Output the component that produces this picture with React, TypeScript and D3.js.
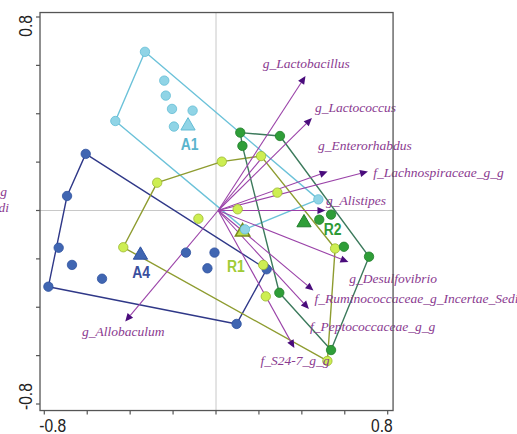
import React from 'react';
import * as d3 from 'd3';

// ---------- data (ordination scores) ----------
const groupNames = ['A1', 'A4', 'R1', 'R2'];

const a1X = [-0.331, -0.241, -0.234, -0.205, -0.109, -0.196, -0.469, 0.477, 0.135];
const a1Y = [0.656, 0.537, 0.475, 0.420, 0.413, 0.347, 0.370, 0.046, -0.078];

const a4X = [-0.607, -0.694, -0.733, -0.671, -0.781, -0.531, -0.140, -0.007, -0.040, 0.236, 0.096];
const a4Y = [0.234, 0.060, -0.154, -0.225, -0.315, -0.282, -0.174, -0.174, -0.239, -0.243, -0.469];

const r1X = [0.027, 0.210, -0.274, 0.286, 0.101, -0.082, -0.432, 0.220, 0.232, 0.555, 0.519];
const r1Y = [0.202, 0.225, 0.115, 0.074, 0.005, -0.034, -0.152, -0.225, -0.355, -0.157, -0.622];

const r2X = [0.113, 0.123, 0.298, 0.481, 0.536, 0.596, 0.713, 0.295, 0.536];
const r2Y = [0.322, 0.267, 0.308, -0.038, -0.017, -0.150, -0.191, -0.340, -0.577];

// group label anchors (data units)
const groupLabelX = [-0.123, -0.349, 0.093, 0.543];
const groupLabelY = [0.250, -0.279, -0.253, -0.101];

// environmental / taxon vectors
const taxa = [
  'g_Lactobacillus',
  'g_Lactococcus',
  'g_Enterorhabdus',
  'f_Lachnospiraceae_g_g',
  'g_Alistipes',
  'g_Desulfovibrio',
  'f_Ruminococcaceae_g_Incertae_Sedis',
  'f_Peptococcaceae_g_g',
  'f_S24-7_g_g',
  'g_Allobaculum',
];
const taxonX = [0.417, 0.447, 0.520, 0.708, 0.510, 0.617, 0.454, 0.433, 0.365, -0.423];
const taxonY = [0.556, 0.382, 0.161, 0.161, 0.000, -0.213, -0.331, -0.407, -0.568, -0.459];
const taxonLabelX = [0.421, 0.461, 0.475, 0.733, 0.513, 0.621, 0.459, 0.438, 0.368, -0.432];
const taxonLabelY = [0.589, 0.408, 0.250, 0.140, 0.023, -0.301, -0.384, -0.500, -0.639, -0.519];
const taxonAnchor = ['middle', 'start', 'start', 'start', 'start', 'start', 'start', 'start', 'middle', 'middle'];
const vectorOrigin = [0.01, 0];
// axis extension through the origin opposite g_Allobaculum
const extensionEnd = [0.225, 0.23];

// cut-off label at the left margin
const leftLabelLines = ['f_Erysipelotrichaceae_g', 'g_Incertae_Sedi'];
const leftLabelY = [0.06, -0.005];

const axisTicks = [-0.8, -0.6, -0.4, -0.2, 0, 0.2, 0.4, 0.6, 0.8];
const axisTickLabels = ['-0.8', '0.8'];

// ---------- styles ----------
const styles: Record<string, { fill: string; stroke: string; hull: string; label: string }> = {
  A1: { fill: '#90d4e6', stroke: '#62bcd4', hull: '#6cc2d9', label: '#5ab4cd' },
  A4: { fill: '#4066b2', stroke: '#2f52a0', hull: '#2f3888', label: '#3a4f9e' },
  R1: { fill: '#cdee52', stroke: '#9ab830', hull: '#8e9c30', label: '#9fcb36' },
  R2: { fill: '#2f9e38', stroke: '#1f7d2a', hull: '#3c7a5c', label: '#2e9a36' },
};

const xs = d3.scaleLinear().domain([-0.8, 0.8]).range([44.3, 387.7]);
const ys = d3.scaleLinear().domain([-0.8, 0.8]).range([404, 17]);
const boxX = [-0.82, 0.825];
const boxY = [-0.827, 0.8185];

export default function App() {
  const groups = [
    { name: groupNames[0], xv: a1X, yv: a1Y },
    { name: groupNames[1], xv: a4X, yv: a4Y },
    { name: groupNames[2], xv: r1X, yv: r1Y },
    { name: groupNames[3], xv: r2X, yv: r2Y },
  ];

  const left = xs(boxX[0]);
  const right = xs(boxX[1]);
  const top = ys(boxY[1]);
  const bottom = ys(boxY[0]);

  const ox = xs(vectorOrigin[0]);
  const oy = ys(vectorOrigin[1]);

  const tri = d3.symbol().type(d3.symbolTriangle).size(88)();

  const sansFont = "'Liberation Sans', Arial, sans-serif";
  const serifFont = "'Liberation Serif', 'Times New Roman', serif";
  const purpleText = '#8a3a90';
  const purpleLine = '#9a42a8';
  const purpleHead = '#4a0c7c';

  return (
    <svg width={517} height={434} style={{ position: 'absolute', left: 0, top: 0, background: '#fff' }}>
      <rect x={0} y={0} width={517} height={434} fill="#fff" />
      {/* gridlines at zero */}
      <line x1={xs(0)} x2={xs(0)} y1={top} y2={bottom} stroke="#c8c8c8" strokeWidth={1} />
      <line x1={left} x2={right} y1={ys(0)} y2={ys(0)} stroke="#c8c8c8" strokeWidth={1} />

      {/* hulls */}
      {groups.map((g) => {
        const pts = g.xv.map((v, i) => [xs(v), ys(g.yv[i])] as [number, number]);
        const hull = d3.polygonHull(pts) || [];
        return (
          <polygon
            key={'h' + g.name}
            points={hull.map((p) => p.join(',')).join(' ')}
            fill="none"
            stroke={styles[g.name].hull}
            strokeWidth={1.4}
            strokeLinejoin="round"
          />
        );
      })}

      {/* vectors */}
      <line x1={ox} y1={oy} x2={xs(extensionEnd[0])} y2={ys(extensionEnd[1])} stroke={purpleLine} strokeWidth={1.1} />
      {taxa.map((t, i) => {
        const tx = xs(taxonX[i]);
        const ty = ys(taxonY[i]);
        const ang = Math.atan2(ty - oy, tx - ox);
        const L = 8, w = 3.6;
        const bx = tx - L * Math.cos(ang);
        const by = ty - L * Math.sin(ang);
        const nx = -Math.sin(ang), ny = Math.cos(ang);
        const head = `${tx},${ty} ${bx + w * nx},${by + w * ny} ${bx - w * nx},${by - w * ny}`;
        return (
          <g key={'v' + t}>
            <line x1={ox} y1={oy} x2={bx} y2={by} stroke={purpleLine} strokeWidth={1.1} />
            <polygon points={head} fill={purpleHead} />
          </g>
        );
      })}

      {/* centroids */}
      {groups.map((g) => {
        const cx = xs(d3.mean(g.xv) as number);
        const cy = ys(d3.mean(g.yv) as number);
        const s = styles[g.name];
        const isR1 = g.name === 'R1';
        return (
          <path
            key={'c' + g.name}
            d={tri as string}
            transform={`translate(${cx},${cy + 1})`}
            fill={isR1 ? '#bcdc48' : s.fill}
            stroke={isR1 ? '#7a8a1c' : s.stroke}
            strokeWidth={isR1 ? 1.6 : 1}
          />
        );
      })}

      {/* points */}
      {groups.map((g) =>
        g.xv.map((v, i) => (
          <circle
            key={'p' + g.name + i}
            cx={xs(v)}
            cy={ys(g.yv[i])}
            r={4.7}
            fill={styles[g.name].fill}
            stroke={styles[g.name].stroke}
            strokeWidth={0.8}
          />
        ))
      )}

      {/* group labels */}
      {groups.map((g, i) => (
        <text
          key={'gl' + g.name}
          transform={`translate(${xs(groupLabelX[i])},${ys(groupLabelY[i])}) scale(0.82,1)`}
          textAnchor="middle"
          fontFamily={sansFont}
          fontWeight="bold"
          fontSize={17}
          fill={styles[g.name].label}
        >
          {g.name}
        </text>
      ))}

      {/* taxon labels */}
      {taxa.map((t, i) => (
        <text
          key={'tl' + t}
          x={xs(taxonLabelX[i])}
          y={ys(taxonLabelY[i])}
          textAnchor={taxonAnchor[i] as any}
          fontFamily={serifFont}
          fontStyle="italic"
          fontSize={13.5}
          fill={purpleText}
        >
          {t}
        </text>
      ))}
      {leftLabelLines.map((t, i) => (
        <text
          key={'ll' + i}
          x={i === 0 ? 7 : 9}
          y={ys(leftLabelY[i])}
          textAnchor="end"
          fontFamily={serifFont}
          fontStyle="italic"
          fontSize={13.5}
          fill={purpleText}
        >
          {t}
        </text>
      ))}

      {/* frame */}
      <rect x={left} y={top} width={right - left} height={bottom - top} fill="none" stroke="#555" strokeWidth={1.3} />

      {/* ticks */}
      {axisTicks.map((t) => (
        <line key={'xt' + t} x1={xs(t)} x2={xs(t)} y1={bottom} y2={bottom + 4} stroke="#555" strokeWidth={1.2} />
      ))}
      {axisTicks.map((t) => (
        <line key={'yt' + t} x1={left - 4} x2={left} y1={ys(t)} y2={ys(t)} stroke="#555" strokeWidth={1.2} />
      ))}

      {/* tick labels */}
      <text
        transform={`translate(${xs(-0.8) - 5},${432}) scale(0.82,1)`}
        textAnchor="start"
        fontFamily={sansFont}
        fontSize={19}
        fill="#222"
      >
        {axisTickLabels[0]}
      </text>
      <text
        transform={`translate(${xs(0.8) + 5},${432}) scale(0.82,1)`}
        textAnchor="end"
        fontFamily={sansFont}
        fontSize={19}
        fill="#222"
      >
        {axisTickLabels[1]}
      </text>
      <text
        transform={`translate(${32},${ys(0.8) - 2}) rotate(-90) scale(0.82,1)`}
        textAnchor="end"
        fontFamily={sansFont}
        fontSize={19}
        fill="#222"
      >
        {axisTickLabels[1]}
      </text>
      <text
        transform={`translate(${32},${ys(-0.8) + 6}) rotate(-90) scale(0.82,1)`}
        textAnchor="start"
        fontFamily={sansFont}
        fontSize={19}
        fill="#222"
      >
        {axisTickLabels[0]}
      </text>
    </svg>
  );
}
